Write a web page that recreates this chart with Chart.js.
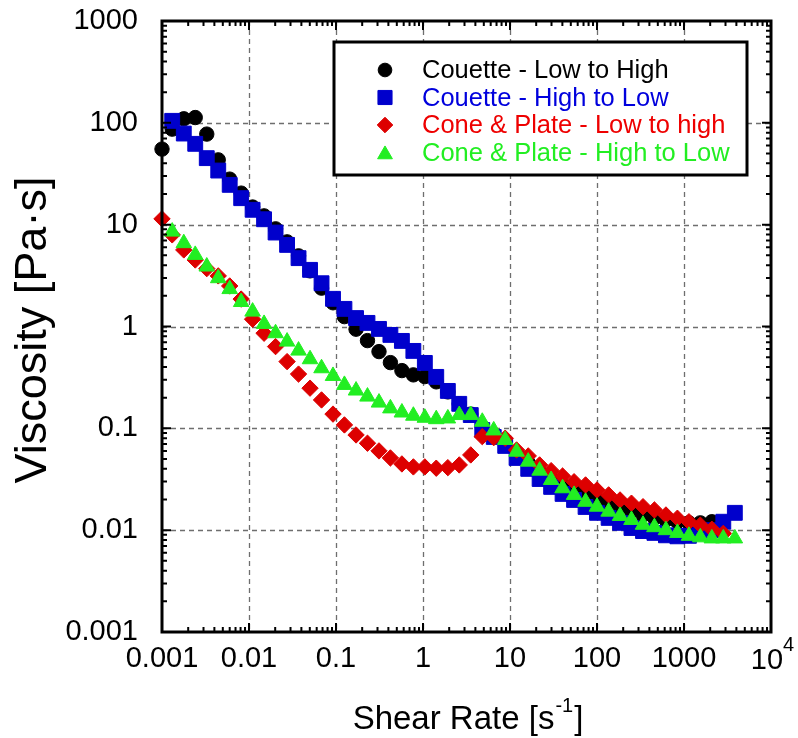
<!DOCTYPE html>
<html><head><meta charset="utf-8">
<script src="https://cdn.jsdelivr.net/npm/chart.js@4.4.0/dist/chart.umd.min.js"></script>
<style>html,body{margin:0;padding:0;background:#fff}canvas{display:block}</style>
</head><body>
<canvas id="c" width="798" height="738"></canvas>
<script>
// Shear rate grid [1/s]
const shearRate = [0.001, 0.00131, 0.00178, 0.00241, 0.00327, 0.00443, 0.0060, 0.00813, 0.0110, 0.0149,
  0.0202, 0.0274, 0.0371, 0.0503, 0.0682, 0.0924, 0.125, 0.170, 0.230, 0.312,
  0.422, 0.572, 0.775, 1.05, 1.42, 1.93, 2.61, 3.54, 4.80, 6.50,
  8.81, 11.9, 16.2, 21.9, 29.7, 40.2, 54.5, 73.9, 100, 136,
  184, 249, 338, 457, 620, 840, 1140, 1540, 2090, 2830, 3840];
// Viscosity [Pa·s]
const couetteLowToHigh = [55.2, 86.7, 109.5, 112.7, 77.5, 43.3, 28.0, 20.4, 14.9, 12.2,
  9.1, 6.78, 4.94, 3.52, 2.38, 1.71, 1.25, 0.941, 0.727, 0.567,
  0.442, 0.369, 0.335, 0.322, 0.286, 0.228, 0.174, 0.138, 0.103, 0.086,
  0.0703, 0.056, 0.0457, 0.0373, 0.0318, 0.0278, 0.0248, 0.0227, 0.0203, 0.0185,
  0.0169, 0.0154, 0.0141, 0.0132, 0.0126, 0.0121, 0.0118, 0.0118, 0.0121, null, null];
const couetteHighToLow = [null, 104.6, 78.5, 62.2, 45.0, 34.0, 24.6, 18.2, 14.0, 11.3,
  8.37, 6.33, 4.69, 3.60, 2.66, 1.87, 1.49, 1.21, 1.085, 0.947,
  0.827, 0.722, 0.576, 0.439, 0.320, 0.233, 0.174, 0.135, 0.0964, 0.0823,
  0.0672, 0.0512, 0.040, 0.0318, 0.0266, 0.0227, 0.0198, 0.0169, 0.0148, 0.0132,
  0.0118, 0.0105, 0.0098, 0.0094, 0.0089, 0.0087, 0.0088, 0.0094, 0.0100, 0.0121, 0.0148];
const conePlateLowToHigh = [11.4, 7.94, 5.65, 4.5, 3.7, 3.14, 2.50, 1.86, 1.18, 0.859,
  0.635, 0.452, 0.341, 0.248, 0.190, 0.138, 0.108, 0.0861, 0.0714, 0.060,
  0.0512, 0.0447, 0.0418, 0.0418, 0.0406, 0.0411, 0.0437, 0.0548, 0.0829, 0.081,
  0.0799, 0.0613, 0.0536, 0.0437, 0.0384, 0.034, 0.0299, 0.0278, 0.0248, 0.0222,
  0.0198, 0.0184, 0.0170, 0.0158, 0.0141, 0.0131, 0.0121, 0.0112, 0.0102, 0.0093, null];
const conePlateHighToLow = [null, 8.55, 6.58, 5.05, 3.88, 2.98, 2.33, 1.74, 1.40, 1.06,
  0.859, 0.711, 0.580, 0.477, 0.389, 0.327, 0.267, 0.235, 0.205, 0.179,
  0.157, 0.143, 0.133, 0.127, 0.123, 0.125, 0.135, 0.135, 0.116, 0.0954,
  0.0769, 0.059, 0.0471, 0.0384, 0.0311, 0.0258, 0.0222, 0.0190, 0.0170, 0.0152,
  0.0138, 0.0126, 0.0113, 0.0107, 0.0100, 0.0094, 0.0088, 0.0085, 0.0083, 0.0083, 0.0083];

const seriesNames = ['Couette - Low to High', 'Couette - High to Low', 'Cone & Plate - Low to high', 'Cone & Plate - High to Low'];
const xTicks = [0.001, 0.01, 0.1, 1, 10, 100, 1000, 10000];
const yTicks = [0.001, 0.01, 0.1, 1, 10, 100, 1000];
const xTickLabels = ['0.001', '0.01', '0.1', '1', '10', '100', '1000', ''];
const yTickLabels = ['0.001', '0.01', '0.1', '1', '10', '100', '1000'];
const xTitle = ['Shear Rate [s', '-1', ']'];
const yTitle = 'Viscosity [Pa\u00b7s]';

const FONT = "'Liberation Sans', Arial, Helvetica, sans-serif";
const colors = ['#000000', '#0000cc', '#dd0000', '#22ee22'];
const textColors = ['#000000', '#0000dd', '#ee0000', '#22ee22'];
const styles = ['circle', 'rect', 'rectRot', 'triangle'];
const radii = [7.2, 10.5, 8.2, 9];

function pts(arr) {
  return shearRate.map((x, i) => ({x: x, y: arr[i]})).filter(p => p.y != null);
}
const allSeries = [couetteLowToHigh, couetteHighToLow, conePlateLowToHigh, conePlateHighToLow];

const deco = {
  id: 'deco',
  beforeDatasetsDraw(chart) {
    const {ctx, chartArea: a, scales: {x, y}} = chart;
    ctx.save();
    ctx.strokeStyle = '#6e6e6e'; ctx.lineWidth = 1.3; ctx.setLineDash([5, 4]);
    xTicks.slice(1, -1).forEach(v => {
      const px = Math.round(x.getPixelForValue(v)) + 0.5;
      ctx.beginPath(); ctx.moveTo(px, a.top); ctx.lineTo(px, a.bottom); ctx.stroke();
    });
    yTicks.slice(1, -1).forEach(v => {
      const py = Math.round(y.getPixelForValue(v)) + 0.5;
      ctx.beginPath(); ctx.moveTo(a.left, py); ctx.lineTo(a.right, py); ctx.stroke();
    });
    ctx.restore();
  },
  afterDatasetsDraw(chart) {
    const {ctx, chartArea: a, scales: {x, y}} = chart;
    ctx.save();
    ctx.setLineDash([]);
    ctx.strokeStyle = '#000'; ctx.lineWidth = 2;
    // inward ticks on all four sides
    const decX = [], decY = [];
    for (let e = -3; e < 4; e++) for (let m = 1; m < 10; m++) decX.push([m * Math.pow(10, e), m === 1]);
    decX.push([1e4, true]);
    for (let e = -3; e < 3; e++) for (let m = 1; m < 10; m++) decY.push([m * Math.pow(10, e), m === 1]);
    decY.push([1e3, true]);
    decX.forEach(([v, major]) => {
      const px = x.getPixelForValue(v); const L = major ? 9 : 5;
      ctx.beginPath(); ctx.moveTo(px, a.bottom); ctx.lineTo(px, a.bottom - L);
      ctx.moveTo(px, a.top); ctx.lineTo(px, a.top + L); ctx.stroke();
    });
    decY.forEach(([v, major]) => {
      const py = y.getPixelForValue(v); const L = major ? 9 : 5;
      ctx.beginPath(); ctx.moveTo(a.left, py); ctx.lineTo(a.left + L, py);
      ctx.moveTo(a.right, py); ctx.lineTo(a.right - L, py); ctx.stroke();
    });
    // frame
    ctx.lineWidth = 3;
    ctx.strokeRect(a.left, a.top, a.right - a.left, a.bottom - a.top);

    // 10^4 tick label
    ctx.fillStyle = '#000';
    ctx.font = '29px ' + FONT;
    ctx.textBaseline = 'middle'; ctx.textAlign = 'center';
    const p4 = x.getPixelForValue(1e4);
    ctx.fillText('10', p4 - 4, 661);
    ctx.font = '20px ' + FONT; ctx.textAlign = 'left';
    ctx.fillText('4', p4 + 12, 645);

    // legend
    const lx = 334, ly = 42, lw = 413, lh = 133;
    ctx.fillStyle = '#fff'; ctx.fillRect(lx, ly, lw, lh);
    ctx.lineWidth = 3; ctx.strokeStyle = '#000'; ctx.strokeRect(lx, ly, lw, lh);
    const rows = [70, 97.5, 125, 152.5];
    rows.forEach((ry, i) => {
      ctx.fillStyle = colors[i]; ctx.strokeStyle = colors[i]; ctx.lineWidth = 1;
      Chart.helpers.drawPoint(ctx, {pointStyle: styles[i], radius: radii[i] * 0.95, borderWidth: 1}, 385, ry + (i === 3 ? 2 : 0));
    });
    ctx.font = '25.5px ' + FONT; ctx.textAlign = 'left'; ctx.textBaseline = 'middle';
    rows.forEach((ry, i) => {
      ctx.fillStyle = textColors[i];
      ctx.fillText(seriesNames[i], 422, ry + 1);
    });

    // axis titles
    ctx.fillStyle = '#000';
    ctx.font = '33px ' + FONT; ctx.textBaseline = 'alphabetic'; ctx.textAlign = 'left';
    const w1 = ctx.measureText(xTitle[0]).width;
    ctx.font = '20px ' + FONT; const w2 = ctx.measureText(xTitle[1]).width;
    ctx.font = '33px ' + FONT; const w3 = ctx.measureText(xTitle[2]).width;
    let sx = 467 - (w1 + w2 + w3) / 2;
    ctx.fillText(xTitle[0], sx, 729);
    ctx.font = '20px ' + FONT; ctx.fillText(xTitle[1], sx + w1 + 1, 712);
    ctx.font = '33px ' + FONT; ctx.fillText(xTitle[2], sx + w1 + w2 + 2, 729);

    ctx.save();
    ctx.translate(34, 330); ctx.rotate(-Math.PI / 2);
    ctx.textAlign = 'center'; ctx.textBaseline = 'middle';
    ctx.font = '45px ' + FONT;
    ctx.fillText(yTitle, 0, 0);
    ctx.restore();
    ctx.restore();
  }
};

const chart = new Chart(document.getElementById('c'), {
  type: 'scatter',
  data: {
    datasets: allSeries.map((arr, i) => ({
      label: seriesNames[i],
      data: pts(arr),
      pointStyle: styles[i],
      pointRadius: radii[i],
      pointHoverRadius: radii[i],
      backgroundColor: colors[i],
      borderColor: colors[i],
      pointBorderWidth: 1,
      showLine: false,
      clip: false,
      order: 3 - i
    }))
  },
  options: {
    responsive: false,
    animation: false,
    events: [],
    layout: {padding: {left: 0, right: 27, top: 21, bottom: 0}},
    plugins: {legend: {display: false}, tooltip: {enabled: false}},
    scales: {
      x: {
        type: 'logarithmic', min: 0.001, max: 10000,
        grid: {display: false, drawTicks: false},
        border: {display: false},
        afterBuildTicks: s => { s.ticks = xTicks.map(v => ({value: v, major: true})); },
        afterFit: s => { s.height = 106; s.paddingLeft = 0; s.paddingRight = 0; },
        ticks: {
          autoSkip: false, maxRotation: 0, padding: 10, color: '#000',
          font: {family: FONT, size: 29},
          callback: (v, i) => xTickLabels[i]
        }
      },
      y: {
        type: 'logarithmic', min: 0.001, max: 1000,
        grid: {display: false, drawTicks: false},
        border: {display: false},
        afterBuildTicks: s => { s.ticks = yTicks.map(v => ({value: v, major: true})); },
        afterFit: s => { s.width = 162; s.paddingTop = 0; s.paddingBottom = 0; },
        ticks: {
          autoSkip: false, padding: 24, color: '#000',
          font: {family: FONT, size: 29},
          callback: (v, i) => yTickLabels[i]
        }
      }
    }
  },
  plugins: [deco]
});
</script>
</body></html>
